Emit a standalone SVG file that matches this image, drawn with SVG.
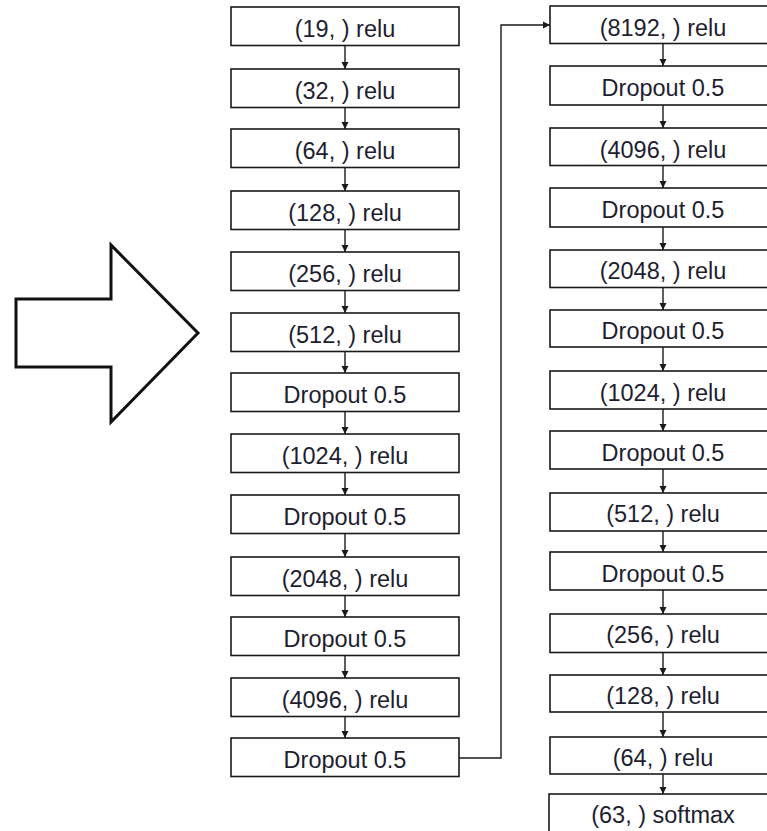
<svg xmlns="http://www.w3.org/2000/svg" width="767" height="831" viewBox="0 0 767 831">
  <defs>
    <style>
      .box { fill: #ffffff; stroke: #1a1a1a; stroke-width: 1.6; }
      .lbl { font-family: "Liberation Sans", Arial, sans-serif; font-size: 23.5px; fill: #1e1e30; text-anchor: middle; }
      .edge { fill: none; stroke: #1a1a1a; stroke-width: 1.4; marker-end: url(#ah); }
      .big { fill: #ffffff; stroke: #111111; stroke-width: 3; stroke-linejoin: miter; }
    </style>
    <marker id="ah" viewBox="0 0 8 8" refX="8" refY="4" markerWidth="7" markerHeight="8" markerUnits="userSpaceOnUse" orient="auto">
      <path d="M0,0 L8,4 L0,8 z" fill="#1a1a1a"/>
    </marker>
  </defs>
  <rect width="767" height="831" fill="#ffffff"/>

  <!-- large hollow arrow on the left -->
  <g id="input-arrow">
    <polygon class="big" points="16,299 111,299 111,245 198,333 111,422 111,367 16,367"/>
  </g>

  <!-- left column -->
  <g id="l1"><rect class="box" x="231" y="7" width="228" height="38.5"/><text class="lbl" x="345" y="37">(19, ) relu</text></g>
  <g id="l2"><rect class="box" x="231" y="69" width="228" height="38.5"/><text class="lbl" x="345" y="99">(32, ) relu</text></g>
  <g id="l3"><rect class="box" x="231" y="129" width="228" height="38.5"/><text class="lbl" x="345" y="159">(64, ) relu</text></g>
  <g id="l4"><rect class="box" x="231" y="191" width="228" height="38.5"/><text class="lbl" x="345" y="221">(128, ) relu</text></g>
  <g id="l5"><rect class="box" x="231" y="252" width="228" height="38.5"/><text class="lbl" x="345" y="282">(256, ) relu</text></g>
  <g id="l6"><rect class="box" x="231" y="313" width="228" height="38.5"/><text class="lbl" x="345" y="343">(512, ) relu</text></g>
  <g id="l7"><rect class="box" x="231" y="373" width="228" height="38.5"/><text class="lbl" x="345" y="403">Dropout 0.5</text></g>
  <g id="l8"><rect class="box" x="231" y="434" width="228" height="38.5"/><text class="lbl" x="345" y="464">(1024, ) relu</text></g>
  <g id="l9"><rect class="box" x="231" y="495" width="228" height="38.5"/><text class="lbl" x="345" y="525">Dropout 0.5</text></g>
  <g id="l10"><rect class="box" x="231" y="557" width="228" height="38.5"/><text class="lbl" x="345" y="587">(2048, ) relu</text></g>
  <g id="l11"><rect class="box" x="231" y="617" width="228" height="38.5"/><text class="lbl" x="345" y="647">Dropout 0.5</text></g>
  <g id="l12"><rect class="box" x="231" y="678" width="228" height="38.5"/><text class="lbl" x="345" y="708">(4096, ) relu</text></g>
  <g id="l13"><rect class="box" x="231" y="738" width="228" height="38.5"/><text class="lbl" x="345" y="768">Dropout 0.5</text></g>

  <!-- right column -->
  <g id="r1"><rect class="box" x="550" y="6" width="226" height="37.5"/><text class="lbl" x="663" y="36">(8192, ) relu</text></g>
  <g id="r2"><rect class="box" x="550" y="66" width="226" height="39"/><text class="lbl" x="663" y="96">Dropout 0.5</text></g>
  <g id="r3"><rect class="box" x="550" y="128" width="226" height="37.5"/><text class="lbl" x="663" y="158">(4096, ) relu</text></g>
  <g id="r4"><rect class="box" x="550" y="188" width="226" height="39"/><text class="lbl" x="663" y="218">Dropout 0.5</text></g>
  <g id="r5"><rect class="box" x="550" y="250" width="226" height="37.5"/><text class="lbl" x="663" y="279">(2048, ) relu</text></g>
  <g id="r6"><rect class="box" x="550" y="310" width="226" height="37"/><text class="lbl" x="663" y="339">Dropout 0.5</text></g>
  <g id="r7"><rect class="box" x="550" y="371" width="226" height="38"/><text class="lbl" x="663" y="401">(1024, ) relu</text></g>
  <g id="r8"><rect class="box" x="550" y="431" width="226" height="38"/><text class="lbl" x="663" y="461">Dropout 0.5</text></g>
  <g id="r9"><rect class="box" x="550" y="493" width="226" height="38"/><text class="lbl" x="663" y="522">(512, ) relu</text></g>
  <g id="r10"><rect class="box" x="550" y="552" width="226" height="38"/><text class="lbl" x="663" y="582">Dropout 0.5</text></g>
  <g id="r11"><rect class="box" x="550" y="614" width="226" height="38.5"/><text class="lbl" x="663" y="643">(256, ) relu</text></g>
  <g id="r12"><rect class="box" x="550" y="675" width="226" height="37"/><text class="lbl" x="663" y="704">(128, ) relu</text></g>
  <g id="r13"><rect class="box" x="550" y="737" width="226" height="37"/><text class="lbl" x="663" y="766">(64, ) relu</text></g>
  <g id="r14"><rect class="box" x="549" y="794" width="227" height="40"/><text class="lbl" x="663" y="823">(63, ) softmax</text></g>

  <!-- connectors -->
  <g id="connectors">
    <line class="edge" x1="345" y1="45.5" x2="345" y2="69"/>
    <line class="edge" x1="345" y1="107.5" x2="345" y2="129"/>
    <line class="edge" x1="345" y1="167.5" x2="345" y2="191"/>
    <line class="edge" x1="345" y1="229.5" x2="345" y2="252"/>
    <line class="edge" x1="345" y1="290.5" x2="345" y2="313"/>
    <line class="edge" x1="345" y1="351.5" x2="345" y2="373"/>
    <line class="edge" x1="345" y1="411.5" x2="345" y2="434"/>
    <line class="edge" x1="345" y1="472.5" x2="345" y2="495"/>
    <line class="edge" x1="345" y1="533.5" x2="345" y2="557"/>
    <line class="edge" x1="345" y1="595.5" x2="345" y2="617"/>
    <line class="edge" x1="345" y1="655.5" x2="345" y2="678"/>
    <line class="edge" x1="345" y1="716.5" x2="345" y2="738"/>

    <path class="edge" d="M459,758 H501 V25 H550"/>

    <line class="edge" x1="663" y1="43.5" x2="663" y2="66"/>
    <line class="edge" x1="663" y1="105" x2="663" y2="128"/>
    <line class="edge" x1="663" y1="165.5" x2="663" y2="188"/>
    <line class="edge" x1="663" y1="227" x2="663" y2="250"/>
    <line class="edge" x1="663" y1="287.5" x2="663" y2="310"/>
    <line class="edge" x1="663" y1="347" x2="663" y2="371"/>
    <line class="edge" x1="663" y1="409" x2="663" y2="431"/>
    <line class="edge" x1="663" y1="469" x2="663" y2="493"/>
    <line class="edge" x1="663" y1="531" x2="663" y2="552"/>
    <line class="edge" x1="663" y1="590" x2="663" y2="614"/>
    <line class="edge" x1="663" y1="652.5" x2="663" y2="675"/>
    <line class="edge" x1="663" y1="712" x2="663" y2="737"/>
    <line class="edge" x1="663" y1="774" x2="663" y2="794"/>
  </g>
</svg>
